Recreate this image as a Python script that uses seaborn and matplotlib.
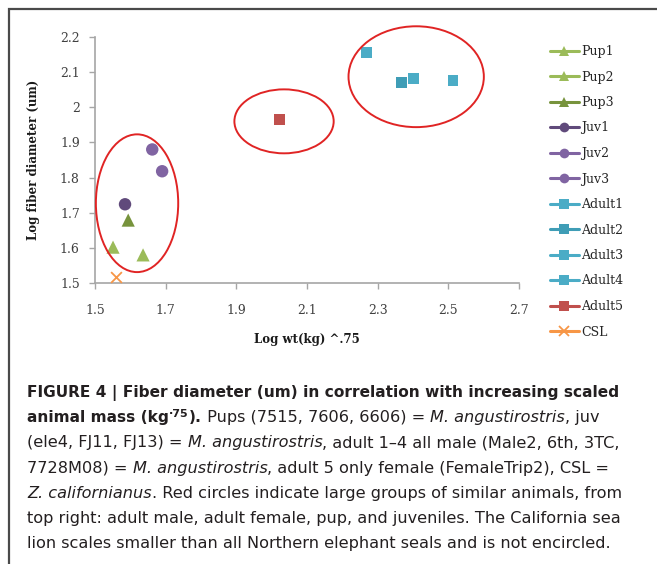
import matplotlib
matplotlib.use("Agg")
import matplotlib.pyplot as plt
from matplotlib.patches import Ellipse, Rectangle
from matplotlib.lines import Line2D
import seaborn as sns
import pandas as pd

# ---- data ----
series = ["Pup1", "Pup2", "Pup3", "Juv1", "Juv2", "Juv3",
          "Adult1", "Adult2", "Adult3", "Adult4", "Adult5", "CSL"]
log_wt = [1.551, 1.636, 1.594, 1.585, 1.662, 1.690,
          2.269, 2.368, 2.402, 2.513, 2.022, 1.560]
log_fiber = [1.602, 1.580, 1.679, 1.724, 1.880, 1.818,
             2.156, 2.071, 2.082, 2.077, 1.966, 1.517]
colors = ["#9BBB59", "#9BBB59", "#77933C", "#604A7B", "#8064A2", "#8064A2",
          "#4BACC6", "#3F9DB6", "#4BACC6", "#4BACC6", "#C0504D", "#F79646"]
markers = ["^", "^", "^", "o", "o", "o", "s", "s", "s", "s", "s", "x"]
x_ticks = [1.5, 1.7, 1.9, 2.1, 2.3, 2.5, 2.7]
y_ticks = [1.5, 1.6, 1.7, 1.8, 1.9, 2.0, 2.1, 2.2]
y_tick_labels = ["1.5", "1.6", "1.7", "1.8", "1.9", "2", "2.1", "2.2"]
# ellipses: (cx, cy, width, height)
ellipses = [(1.619, 1.727, 0.233, 0.392),
            (2.035, 1.960, 0.281, 0.182),
            (2.409, 2.087, 0.383, 0.287)]

df = pd.DataFrame({"series": series, "x": log_wt, "y": log_fiber})
palette = dict(zip(series, colors))
marker_map = dict(zip(series, markers))
msize = {"^": 90, "o": 80, "s": 60, "x": 60}

sns.set_style("white")
plt.rcParams["font.family"] = ["DejaVu Serif"]

W, H = 657, 564
fig = plt.figure(figsize=(W / 100, H / 100), dpi=100)
ax = fig.add_axes([95 / W, 1 - 283 / H, (519 - 95) / W, (283 - 37) / H])

filled = df[df["series"] != "CSL"]
for m in ["^", "o", "s"]:
    sub = filled[[marker_map[s] == m for s in filled["series"]]]
    sns.scatterplot(data=sub, x="x", y="y", hue="series", palette=palette,
                    marker=m, s=msize[m], linewidth=0, ax=ax, legend=False,
                    zorder=3)
csl = df[df["series"] == "CSL"]
sns.scatterplot(data=csl, x="x", y="y", color=palette["CSL"], marker="x",
                s=msize["x"], linewidth=1.3, ax=ax, legend=False, zorder=3)

for cx, cy, w, h in ellipses:
    ax.add_patch(Ellipse((cx, cy), w, h, fill=False, edgecolor="#E02424",
                         lw=1.4, clip_on=False, zorder=4))

ax.set_xlim(1.5, 2.7)
ax.set_ylim(1.5, 2.2)
ax.set_xticks(x_ticks)
ax.set_xticklabels([f"{v:.1f}" for v in x_ticks])
ax.set_yticks(y_ticks)
ax.set_yticklabels(y_tick_labels)
for sp in ["top", "right"]:
    ax.spines[sp].set_visible(False)
for sp in ["left", "bottom"]:
    ax.spines[sp].set_color("#A6A6A6")
    ax.spines[sp].set_linewidth(1.2)
ax.tick_params(axis="both", direction="out", length=4, width=1,
               color="#A6A6A6", labelsize=9, labelcolor="#404040",
               left=True, bottom=True)
ax.tick_params(axis="x", pad=11)
ax.tick_params(axis="y", pad=7)
ax.set_xlabel("Log wt(kg) ^.75", fontsize=8.5, fontweight="bold",
              color="#1a1a1a", labelpad=12)
ax.set_ylabel("Log fiber diameter (um)", fontsize=8.5, fontweight="bold",
              color="#1a1a1a", labelpad=14)

handles = [Line2D([0], [0], color=c, marker=m, lw=2.2,
                  markersize=7,
                  markeredgewidth=(1.3 if m == "x" else 0))
           for c, m in zip(colors, markers)]
fig.legend(handles, series, loc="upper left",
           bbox_to_anchor=(550 / W, 1 - 45 / H), frameon=False,
           fontsize=9, handlelength=2.3, handletextpad=0.2,
           labelspacing=1.0, borderpad=0, borderaxespad=0)

# figure border (top + left visible)
fig.patches.append(Rectangle((9 / W, -0.1), 1.2, 1 - 9 / H + 0.1,
                             transform=fig.transFigure, fill=False,
                             edgecolor="#4a4a4a", lw=1.6))

# ---- caption ----
renderer = fig.canvas.get_renderer()
cap_font = ["DejaVu Sans"]
base = dict(family=cap_font, size=11.6, color="#231F20")


def seg_width(txt, kw):
    t1 = fig.text(0, 0, txt + "x", **kw)
    t2 = fig.text(0, 0, "x", **kw)
    w = t1.get_window_extent(renderer).width - t2.get_window_extent(renderer).width
    t1.remove()
    t2.remove()
    return w


def draw_line(segs, x0, y):
    x = x0
    for txt, extra in segs:
        kw = dict(base)
        extra = dict(extra)
        dy = extra.pop("dy", 0)
        kw.update(extra)
        fig.text(x / W, 1 - (y - dy) / H, txt, va="baseline", **kw)
        x += seg_width(txt, kw)


B = {"weight": "bold", "size": 11.1}
I = {"style": "italic"}
lines = [
    [("FIGURE 4 | Fiber diameter (um) in correlation with increasing scaled", B)],
    [("animal mass (kg", B), ("·75", {"weight": "bold", "size": 8, "dy": 5}),
     (").", B), (" Pups (7515, 7606, 6606) = ", {}), ("M. angustirostris", I),
     (", juv", {})],
    [("(ele4, FJ11, FJ13) = ", {}), ("M. angustirostris", I),
     (", adult 1–4 all male (Male2, 6th, 3TC,", {})],
    [("7728M08) = ", {}), ("M. angustirostris", I),
     (", adult 5 only female (FemaleTrip2), CSL =", {})],
    [("Z. californianus", I),
     (". Red circles indicate large groups of similar animals, from", {})],
    [("top right: adult male, adult female, pup, and juveniles. The California sea", {})],
    [("lion scales smaller than all Northern elephant seals and is not encircled.", {})],
]
y0 = 397
for i, segs in enumerate(lines):
    draw_line(segs, 27, y0 + i * 25.2)

fig.savefig("out.png", dpi=100)
